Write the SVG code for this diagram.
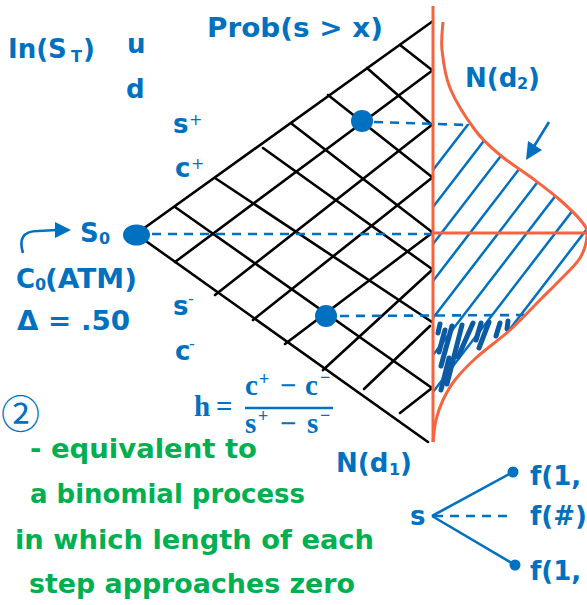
<svg xmlns="http://www.w3.org/2000/svg" width="587" height="605" viewBox="0 0 587 605">
<style>
.lbl{font-family:"DejaVu Sans","Liberation Sans",sans-serif;font-weight:bold;fill:#0070C0;font-size:26px}
.sub{font-family:"DejaVu Sans","Liberation Sans",sans-serif;font-weight:bold;fill:#0070C0;font-size:16px}
.sup{font-family:"DejaVu Sans","Liberation Sans",sans-serif;fill:#0070C0;font-size:16px}
.grn{font-family:"DejaVu Sans","Liberation Sans",sans-serif;font-weight:bold;fill:#00B050;font-size:27px}
.math{font-family:"Liberation Serif","DejaVu Serif",serif;font-weight:bold;fill:#0070C0;font-size:29px}
.msup{font-family:"Liberation Serif","DejaVu Serif",serif;font-weight:bold;fill:#0070C0;font-size:18px}
.grid line{stroke:#000;stroke-width:2.6;stroke-linecap:round}
.dash{stroke:#0070C0;stroke-width:2.6;stroke-dasharray:9 7;fill:none}
.hatch line{stroke:#0070C0;stroke-width:2.5}
.scrib line{stroke:#0b5aa3;stroke-width:5;stroke-linecap:round}
.red{stroke:#f8633f;stroke-width:3;fill:none}
.blue{stroke:#0070C0;stroke-width:2.6;fill:none}
</style>
<defs>
<clipPath id="cBand"><rect x="433" y="124" width="160" height="271"/></clipPath>
<clipPath id="cBell"><path d="M433,22 L443,22 C442.8,26.7 440.8,39 442,50 C443.2,61 444.5,74.7 450,88 C455.5,101.3 466.7,118.8 475,130 C483.3,141.2 490.5,147 500,155 C509.5,163 522,170.5 532,178 C542,185.5 551.7,192.7 560,200 C568.3,207.3 577.5,216.2 582,222 C586.5,227.8 587.3,229 587,235 C586.7,241 584.5,250.5 580,258 C575.5,265.5 566.7,273 560,280 C553.3,287 548.3,291.7 540,300 C531.7,308.3 520.5,320.5 510,330 C499.5,339.5 486.2,348.7 477,357 C467.8,365.3 460.7,372.8 455,380 C449.3,387.2 446.2,393.3 443,400 C439.8,406.7 437.7,413 436,420 C434.3,427 433.5,438.3 433,442 Z"/></clipPath>
</defs>
<rect width="587" height="605" fill="#fff"/>

<g id="connectors">
<g id="grid" class="grid">
<line x1="136" y1="234" x2="428" y2="442"/>
<line x1="175" y1="207" x2="432" y2="388"/>
<line x1="215" y1="178" x2="432" y2="322"/>
<line x1="263" y1="148" x2="432" y2="269"/>
<line x1="292" y1="124" x2="432" y2="232"/>
<line x1="328" y1="95" x2="432" y2="177"/>
<line x1="367" y1="68" x2="432" y2="125"/>
<line x1="400" y1="45" x2="432" y2="70"/>
<line x1="136" y1="234" x2="433" y2="21"/>
<line x1="175" y1="262" x2="433" y2="70"/>
<line x1="215" y1="295" x2="433" y2="124"/>
<line x1="253" y1="320" x2="433" y2="177"/>
<line x1="285" y1="344" x2="432" y2="233"/>
<line x1="323" y1="370" x2="432" y2="270"/>
<line x1="364" y1="389" x2="430" y2="326"/>
<line x1="400" y1="413" x2="432" y2="388"/>
</g>
<g id="hatch" class="hatch" clip-path="url(#cBand)">
<g clip-path="url(#cBell)">
<line x1="433" y1="170" x2="600" y2="-47"/>
<line x1="433" y1="207" x2="600" y2="-10"/>
<line x1="433" y1="244" x2="600" y2="27"/>
<line x1="433" y1="281" x2="600" y2="64"/>
<line x1="433" y1="318" x2="600" y2="101"/>
<line x1="433" y1="355" x2="600" y2="138"/>
<line x1="433" y1="392" x2="600" y2="175"/>
<line x1="433" y1="429" x2="600" y2="212"/>
</g>
</g>
<g id="scribbles" class="scrib">
<line x1="440" y1="324" x2="438" y2="333"/>
<line x1="452" y1="326" x2="441" y2="366"/>
<line x1="462" y1="325" x2="447" y2="384"/>
<line x1="473" y1="323" x2="458" y2="357"/>
<line x1="481" y1="323" x2="476" y2="340"/>
<line x1="489" y1="322" x2="479" y2="348"/>
<line x1="500" y1="323" x2="496" y2="336"/>
<line x1="508" y1="321" x2="507" y2="329"/>
<line x1="449" y1="358" x2="441" y2="390"/>
<line x1="445" y1="330" x2="439" y2="352"/>
</g>
<g id="dashes">
<line class="dash" x1="374" y1="122" x2="468" y2="125"/>
<line class="dash" x1="152" y1="234" x2="433" y2="234"/>
<line class="dash" x1="340" y1="316" x2="525" y2="315"/>
</g>
<g id="bell">
<line class="red" x1="433" y1="6" x2="433" y2="442"/>
<line class="red" x1="433" y1="233" x2="587" y2="233"/>
<path class="red" d="M443,22 C442.8,26.7 440.8,39 442,50 C443.2,61 444.5,74.7 450,88 C455.5,101.3 466.7,118.8 475,130 C483.3,141.2 490.5,147 500,155 C509.5,163 522,170.5 532,178 C542,185.5 551.7,192.7 560,200 C568.3,207.3 577.5,216.2 582,222 C586.5,227.8 587.3,229 587,235 C586.7,241 584.5,250.5 580,258 C575.5,265.5 566.7,273 560,280 C553.3,287 548.3,291.7 540,300 C531.7,308.3 520.5,320.5 510,330 C499.5,339.5 486.2,348.7 477,357 C467.8,365.3 460.7,372.8 455,380 C449.3,387.2 446.2,393.3 443,400 C439.8,406.7 437.7,413 436,420 C434.3,427 433.5,438.3 433,442"/>
</g>
<g id="arrows">
<line class="blue" x1="549" y1="122" x2="533" y2="148"/>
<polygon points="526,160 528,141 542,150" fill="#0070C0"/>
<path class="blue" stroke-width="3" d="M23,253 C19,240 22,231 38,231 L57,230"/>
<polygon points="71,230 55,222 55,238" fill="#0070C0"/>
</g>
<g id="tree">
<line class="blue" x1="432" y1="516" x2="513" y2="472"/>
<line class="blue" x1="432" y1="516" x2="515" y2="565"/>
<line class="dash" stroke-dasharray="8 6" x1="434" y1="516" x2="513" y2="516"/>
</g>
</g>

<g id="node-s0"><ellipse cx="136.5" cy="235" rx="13.5" ry="10.5" fill="#0070C0"/></g>
<g id="node-up"><circle cx="362" cy="121" r="11" fill="#0070C0"/></g>
<g id="node-down"><circle cx="326" cy="316" r="11" fill="#0070C0"/></g>
<g id="node-f-up"><circle cx="513" cy="472" r="5.5" fill="#0070C0"/></g>
<g id="node-f-down"><circle cx="515" cy="565" r="5.5" fill="#0070C0"/></g>

<g id="labels">
<text class="lbl" x="8" y="58">In(S</text><text class="sub" font-size="19" x="71" y="62">T</text><text class="lbl" x="83" y="58">)</text>
<text class="lbl" x="127" y="53">u</text>
<text class="lbl" x="126" y="98">d</text>
<text class="lbl" x="207" y="37" textLength="176" lengthAdjust="spacingAndGlyphs">Prob(s &gt; x)</text>
<text class="lbl" x="465" y="87">N(d</text><text class="sub" x="517" y="89">2</text><text class="lbl" x="528" y="87">)</text>
<text class="lbl" x="173" y="133">s</text><text class="sup" x="189" y="125">+</text>
<text class="lbl" x="175" y="177">c</text><text class="sup" x="191" y="169">+</text>
<text class="lbl" x="80" y="242">S</text><text class="sub" x="99" y="244">0</text>
<text class="lbl" x="16" y="288">C</text><text class="sub" x="35" y="290">0</text><text class="lbl" x="45" y="288" textLength="92" lengthAdjust="spacingAndGlyphs">(ATM)</text>
<text class="lbl" x="17" y="330" textLength="113" lengthAdjust="spacingAndGlyphs">Δ = .50</text>
<text class="lbl" x="173" y="315">s</text><text class="sup" font-size="20" x="188" y="304">-</text>
<text class="lbl" x="175" y="360">c</text><text class="sup" font-size="20" x="189" y="349">-</text>
<text class="lbl" x="336" y="472">N(d</text><text class="sub" x="389" y="475">1</text><text class="lbl" x="400" y="472">)</text>
<text class="lbl" x="410" y="525">s</text>
<text class="lbl" x="530" y="485">f(1,</text>
<text class="lbl" x="530" y="525">f(#)</text>
<text class="lbl" x="530" y="580">f(1,</text>
<text x="1" y="428" font-family="'Noto Sans CJK SC','DejaVu Sans',sans-serif" font-size="39" fill="#0070C0">②</text>
</g>

<g id="formula">
<text class="math" font-size="28" x="194" y="416">h</text>
<text class="math" font-size="28" x="216" y="416">=</text>
<text class="math" x="245" y="395">c</text><text class="msup" x="259" y="385">+</text>
<text class="math" x="280" y="395">−</text>
<text class="math" x="305" y="395">c</text><text class="msup" x="320" y="383">−</text>
<line x1="245" y1="408" x2="333" y2="408" stroke="#0070C0" stroke-width="2.5"/>
<text class="math" x="245" y="433">s</text><text class="msup" x="258" y="422">+</text>
<text class="math" x="280" y="433">−</text>
<text class="math" x="307" y="433">s</text><text class="msup" x="320" y="421">−</text>
</g>

<g id="note">
<text class="grn" x="30" y="458" textLength="227" lengthAdjust="spacingAndGlyphs">- equivalent to</text>
<text class="grn" x="30" y="503" textLength="275" lengthAdjust="spacingAndGlyphs">a binomial process</text>
<text class="grn" x="15" y="549" textLength="359" lengthAdjust="spacingAndGlyphs">in which length of each</text>
<text class="grn" x="29" y="593" textLength="326" lengthAdjust="spacingAndGlyphs">step approaches zero</text>
</g>
</svg>
